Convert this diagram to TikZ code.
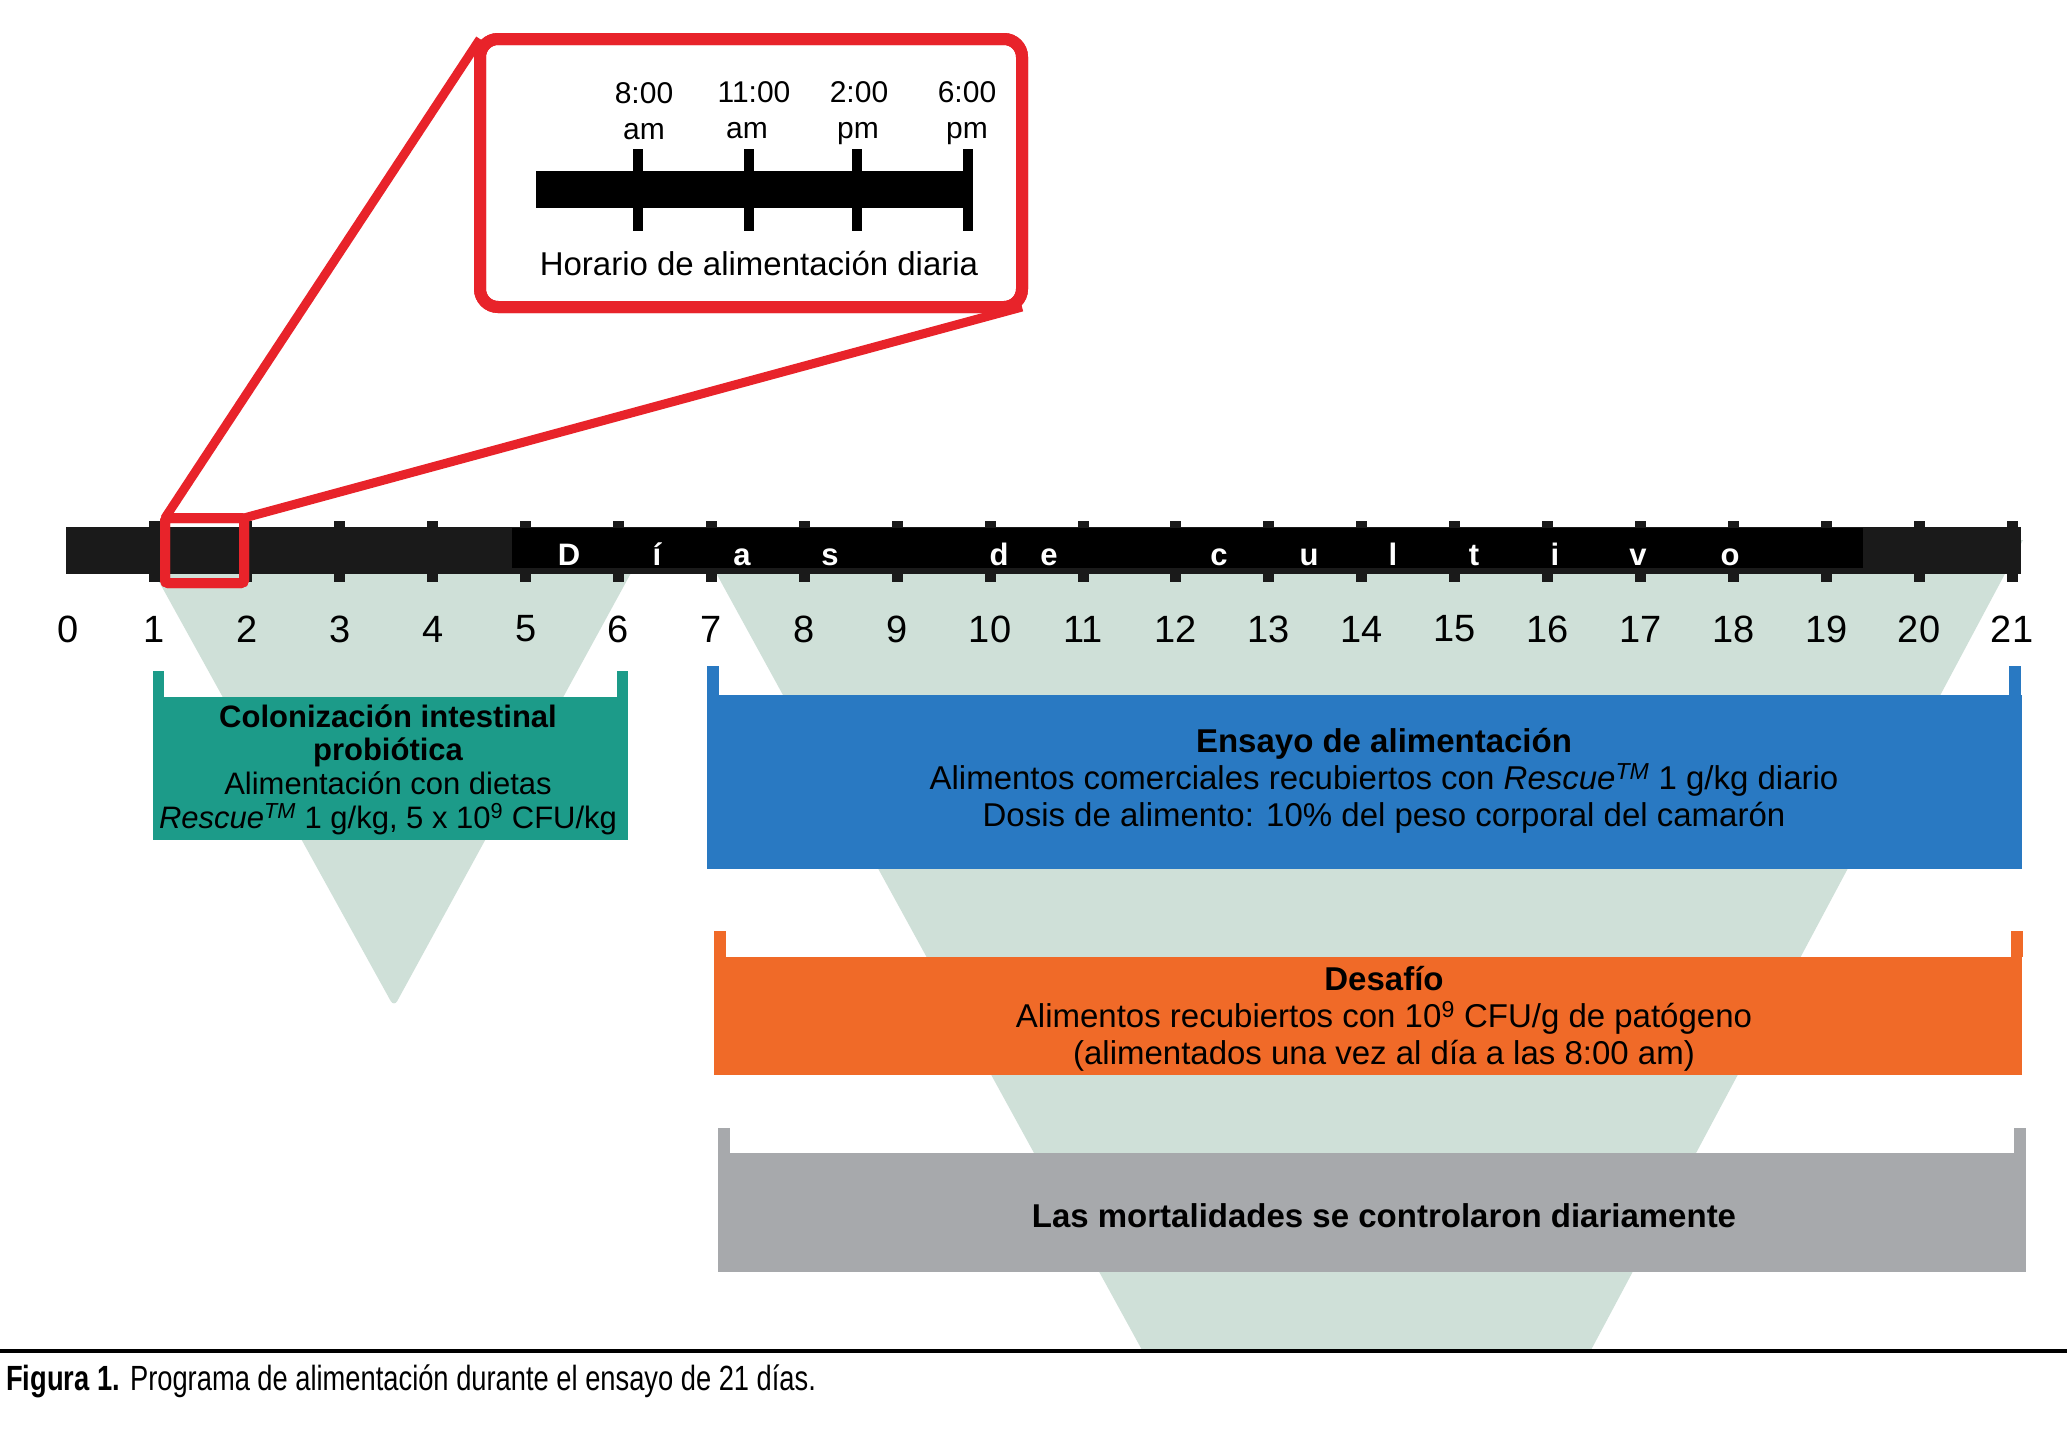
\documentclass[tikz,border=0pt]{standalone}
\usepackage{fontspec}
\setmainfont{Liberation Sans}
\newfontfamily\capfont{Liberation Sans}[FakeStretch=0.78]
\definecolor{mint}{RGB}{207,224,216}
\definecolor{boxgreen}{RGB}{28,155,137}
\definecolor{boxblue}{RGB}{41,121,194}
\definecolor{boxorange}{RGB}{240,106,40}
\definecolor{boxgray}{RGB}{167,169,172}
\definecolor{myred}{RGB}{232,35,42}
\definecolor{barblack}{RGB}{26,26,26}
\begin{document}
\begin{tikzpicture}[x=1pt,y=-1pt,
  lbl/.style={inner sep=0, anchor=base, font=\fontsize{33}{40}\selectfont},
  lblb/.style={inner sep=0, anchor=base, font=\fontsize{33}{40}\selectfont\bfseries},
  glbl/.style={inner sep=0, anchor=base, font=\fontsize{31}{37}\selectfont},
  glblb/.style={inner sep=0, anchor=base, font=\fontsize{31}{37}\selectfont\bfseries},
  tlbl/.style={inner sep=0, anchor=base, font=\fontsize{30}{36}\selectfont},
  daynum/.style={inner sep=0, font=\fontsize{38}{44}\selectfont},
  dayletter/.style={inner sep=0, anchor=base, text=white, font=\fontsize{31}{36}\selectfont\bfseries},
  redbox/.style={draw=myred, inner sep=0, outer sep=0},
  redline/.style={draw=myred, line width=9pt}
]
\useasboundingbox (0,0) rectangle (2067,1443);
\fill[white] (0,0) rectangle (2067,1443);

% mint funnels
\fill[mint, rounded corners=7pt] (136,540) -- (649,540) -- (394,1007) -- cycle;
\fill[mint] (698,540) -- (2023,540) -- (1591,1350) -- (1142,1350) -- cycle;

% main timeline: ticks, bar, darker text band
\foreach \d in {1,...,21}
  \fill[barblack] ({154+92.9*(\d-1)-5.5},521) rectangle +(11,61);
\fill[barblack] (66,527) rectangle (2021,574);
\fill[black] (512,528) rectangle (1863,568);

% day letters
\foreach \c/\x [count=\i] in {D/569, í/657, a/742, s/830, d/999, e/1049, c/1219, u/1309, l/1393, t/1474, i/1555, v/1638, o/1730}
  \node[dayletter] (L\i) at (\x,565) {\c};

% day numbers
\node[daynum] (n0) at (68,629) {0};
\foreach \d in {1,...,21}
  \node[daynum] (n\d) at ({154+92.9*(\d-1)},629) {\d};

% green box
\fill[boxgreen] (153,697) rectangle (628,840);
\fill[boxgreen] (153,671) rectangle (164,697);
\fill[boxgreen] (617,671) rectangle (628,697);
\node[glblb] (g1) at (388,727) {Colonización intestinal};
\node[glblb] (g2) at (388,760) {probiótica};
\node[glbl] (g3) at (388,794) {Alimentación con dietas};
\node[glbl] (g4) at (388,828) {\textit{Rescue\textsuperscript{TM}} 1 g/kg, 5 x 10\textsuperscript{9} CFU/kg};

% blue box
\fill[boxblue] (707,695) rectangle (2022,869);
\fill[boxblue] (707,666) rectangle (719,695);
\fill[boxblue] (2009,666) rectangle (2021,695);
\node[lblb] (b1) at (1384,752) {Ensayo de alimentación};
\node[lbl] (b2) at (1384,789) {Alimentos comerciales recubiertos con \textit{Rescue\textsuperscript{TM}} 1 g/kg diario};
\node[lbl] (b3) at (1384,826) {Dosis de alimento: 10\% del peso corporal del camarón};

% orange box
\fill[boxorange] (714,957) rectangle (2022,1075);
\fill[boxorange] (714,931) rectangle (726,957);
\fill[boxorange] (2011,931) rectangle (2023,957);
\node[lblb] (o1) at (1384,990) {Desafío};
\node[lbl] (o2) at (1384,1027) {Alimentos recubiertos con 10\textsuperscript{9} CFU/g de patógeno};
\node[lbl] (o3) at (1384,1064) {(alimentados una vez al día a las 8:00 am)};

% gray box
\fill[boxgray] (718,1153) rectangle (2026,1272);
\fill[boxgray] (718,1128) rectangle (730,1153);
\fill[boxgray] (2014,1128) rectangle (2026,1153);
\node[lblb] (m1) at (1384,1227) {Las mortalidades se controlaron diariamente};

% red selection and zoom box
\node[redbox, line width=10pt, rounded corners=3pt, minimum width=79pt, minimum height=65pt] (sel) at (204.5,550.5) {};
\node[redbox, line width=12pt, rounded corners=18pt, minimum width=542pt, minimum height=268pt] (zoombox) at (751,173) {};
\draw[redline] (sel.north west) -- (zoombox.north west);
\draw[redline] (sel.north east) -- (zoombox.south east);
\node[redbox, line width=10pt, rounded corners=3pt, minimum width=79pt, minimum height=65pt] at (sel.center) {};
\node[redbox, line width=12pt, rounded corners=18pt, minimum width=542pt, minimum height=268pt] at (zoombox.center) {};

% daily schedule inside zoom box
\fill[black] (536,171) rectangle (973,208);
\foreach \x in {638,749,857,968}
  \fill[black] (\x-5,149) rectangle +(10,82);
\node[tlbl] (t1a) at (644,103) {8:00};
\node[tlbl] (t1b) at (644,139) {am};
\node[tlbl] (t2a) at (754,102) {11:00};
\node[tlbl] (t2b) at (747,138) {am};
\node[tlbl] (t3a) at (859,102) {2:00};
\node[tlbl] (t3b) at (858,138) {pm};
\node[tlbl] (t4a) at (967,102) {6:00};
\node[tlbl] (t4b) at (967,138) {pm};
\node[lbl] (hor) at (759,275) {Horario de alimentación diaria};

% separator and caption
\draw[line width=4pt] (0,1351) -- (2067,1351);
\node[anchor=base west, inner sep=0, font=\capfont\fontsize{35}{40}\selectfont] (cap) at (6,1390) {\textbf{Figura 1.} Programa de alimentación durante el ensayo de 21 días.};
\end{tikzpicture}
\end{document}
